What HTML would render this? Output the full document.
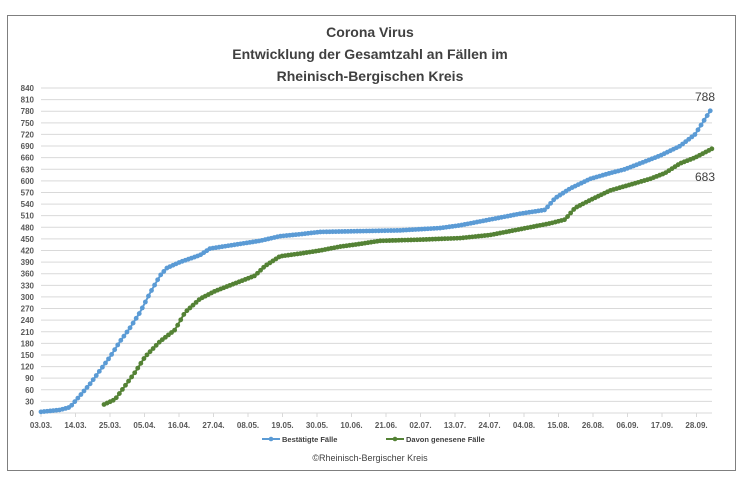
<!DOCTYPE html>
<html><head><meta charset="utf-8"><style>
body{margin:0;background:#fff;width:743px;height:480px;overflow:hidden;font-family:"Liberation Sans",sans-serif}
</style></head><body>
<svg id="s" width="743" height="480" xmlns="http://www.w3.org/2000/svg" font-family="Liberation Sans, sans-serif">
<rect x="7.5" y="15.5" width="728" height="455" fill="#fff" stroke="#7f7f7f"/>
<g font-size="14" font-weight="bold" fill="#404040" text-anchor="middle">
<text x="370" y="37">Corona Virus</text>
<text x="370" y="59">Entwicklung der Gesamtzahl an Fällen im</text>
<text x="370" y="81">Rheinisch-Bergischen Kreis</text>
</g>
<g id="grid"></g>
<g id="ser"></g>
<g font-size="12" fill="#404040">
<text x="695" y="101">788</text>
<text x="695" y="181">683</text>
</g>
<g font-size="7.5" font-weight="bold" fill="#404040">
<line x1="262" y1="439" x2="280" y2="439" stroke="#5b9bd5" stroke-width="2"/><circle cx="271" cy="439" r="2.3" fill="#5b9bd5"/>
<text x="282" y="442">Bestätigte Fälle</text>
<line x1="386" y1="439" x2="404" y2="439" stroke="#548235" stroke-width="2"/><circle cx="395" cy="439" r="2.3" fill="#548235"/>
<text x="406" y="442">Davon genesene Fälle</text>
</g>
<text x="370" y="461" font-size="9" fill="#404040" text-anchor="middle">©Rheinisch-Bergischer Kreis</text>
</svg>
<script>
var NS="http://www.w3.org/2000/svg",g=document.getElementById('grid'),s=document.getElementById('ser');
function el(p,t,a,txt){var e=document.createElementNS(NS,t);for(var k in a)e.setAttribute(k,a[k]);if(txt)e.textContent=txt;p.appendChild(e);return e;}
var y0=413,k=325/840;function Y(v){return y0-v*k;}
for(var v=0;v<=840;v+=30){var y=Y(v);if(v>0)el(g,'line',{x1:41,x2:712,y1:y,y2:y,stroke:'#d9d9d9','stroke-width':1});
el(g,'text',{x:34,y:y+3,'font-size':8,'font-weight':'bold',fill:'#595959','text-anchor':'end'},String(v));}
el(g,'line',{x1:41,x2:712,y1:y0,y2:y0,stroke:'#d9d9d9'});
var labs=["03.03.","14.03.","25.03.","05.04.","16.04.","27.04.","08.05.","19.05.","30.05.","10.06.","21.06.","02.07.","13.07.","24.07.","04.08.","15.08.","26.08.","06.09.","17.09.","28.09."];
labs.forEach(function(l,i){var x=41+i*34.5;el(g,'line',{x1:x,x2:x,y1:y0,y2:y0+4,stroke:'#d9d9d9'});
el(g,'text',{x:x,y:y0+15,'font-size':8,'font-weight':'bold',fill:'#595959','text-anchor':'middle'},l);});
var blue=[[41,3],[60,8],[70,15],[80,45],[90,75],[100,110],[110,145],[120,185],[130,220],[140,260],[150,310],[160,355],[167,375],[180,390],[200,408],[210,425],[235,435],[260,445],[280,457],[300,462],[320,468],[360,470],[400,472],[440,478],[460,485],[490,500],[520,515],[545,525],[555,555],[570,580],[590,605],[610,620],[625,630],[640,645],[660,665],[680,690],[695,720],[712,788]];
var green=[[104,22],[115,35],[125,70],[135,105],[145,145],[160,185],[175,215],[185,260],[200,295],[215,315],[235,335],[255,355],[265,380],[280,405],[300,412],[320,420],[340,430],[360,437],[380,445],[420,448],[460,452],[490,460],[520,475],[550,490],[565,500],[575,530],[590,550],[610,575],[630,590],[650,605],[665,620],[680,645],[695,660],[712,683]];
function draw(d,c){var pts=[];for(var x=d[0][0];x<=d[d.length-1][0]+0.01;x+=3.07){for(var i=0;i<d.length-1&&d[i+1][0]<x;i++);var a=d[i],b=d[Math.min(i+1,d.length-1)];var t=b[0]==a[0]?0:(x-a[0])/(b[0]-a[0]);pts.push([x,Y(a[1]+(b[1]-a[1])*t)]);}
el(s,'polyline',{points:pts.map(function(p){return p[0].toFixed(1)+','+p[1].toFixed(1)}).join(' '),fill:'none',stroke:c,'stroke-width':2});
pts.forEach(function(p){el(s,'circle',{cx:p[0],cy:p[1],r:2.4,fill:c});});}
draw(blue,'#5b9bd5');draw(green,'#548235');
</script>
</body></html>
